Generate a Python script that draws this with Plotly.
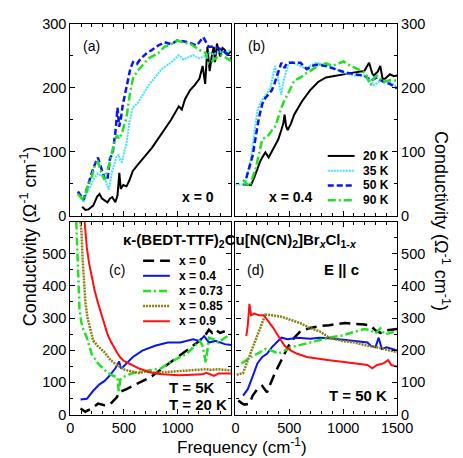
import plotly.graph_objects as go

W, H = 463, 458

# ---- data: (frequency cm-1, conductivity) ----
# panel (a): x = 0
a_20k = [(110, 14), (140, 9), (169, 10), (213, 16), (250, 30), (272, 34), (295, 27), (317, 24), (346, 21),
         (370, 27), (391, 29), (420, 21), (440, 32), (457, 67), (470, 42), (494, 48), (524, 46), (550, 55),
         (583, 70), (630, 80), (672, 89), (720, 98), (761, 106), (820, 120), (879, 134), (940, 150),
         (1012, 171), (1040, 166), (1070, 182), (1116, 196), (1160, 204), (1204, 214), (1234, 234),
         (1258, 206), (1279, 264), (1300, 226), (1320, 250), (1338, 264), (1350, 240), (1368, 269),
         (1397, 249), (1420, 262), (1441, 259), (1470, 252), (1500, 257)]
a_35k = [(70, 36), (100, 28), (124, 21), (150, 35), (183, 44), (220, 58), (257, 66), (290, 62), (317, 64),
         (340, 48), (361, 41), (390, 70), (405, 79), (430, 92), (450, 96), (465, 86), (480, 84), (500, 100),
         (524, 114), (555, 150), (583, 169), (628, 176), (680, 190), (731, 204), (790, 216), (850, 229),
         (938, 239), (1012, 251), (1057, 244), (1100, 248), (1145, 251), (1204, 246), (1260, 250),
         (1293, 254), (1340, 252), (1382, 256), (1440, 255), (1500, 259)]
a_50k = [(70, 38), (100, 30), (124, 25), (150, 40), (183, 56), (215, 75), (257, 91), (285, 75), (317, 59),
         (345, 56), (370, 90), (393, 96), (420, 130), (440, 169), (455, 139), (470, 150), (490, 174),
         (530, 206), (560, 230), (585, 240), (620, 237), (660, 246), (720, 255), (760, 259), (820, 266),
         (880, 271), (940, 268), (1000, 274), (1060, 272), (1100, 271), (1180, 266), (1240, 279),
         (1290, 264), (1350, 264), (1420, 259), (1500, 246)]
a_90k = [(70, 34), (100, 28), (124, 24), (160, 45), (198, 60), (230, 80), (257, 84), (290, 68), (317, 56),
         (345, 70), (376, 89), (410, 115), (435, 126), (455, 120), (480, 129), (500, 140), (524, 154),
         (555, 190), (583, 214), (620, 225), (660, 232), (731, 246), (820, 254), (879, 264), (940, 268),
         (998, 274), (1060, 270), (1116, 269), (1204, 259), (1264, 254), (1290, 238), (1308, 239),
         (1353, 246), (1412, 251), (1450, 247), (1500, 242)]

# panel (b): x = 0.4
b_20k = [(70, 49), (110, 48), (145, 48), (175, 60), (204, 74), (230, 85), (249, 91), (278, 99), (308, 91),
         (352, 106), (397, 119), (426, 134), (445, 145), (456, 158), (470, 140), (485, 134), (515, 144),
         (545, 158), (574, 166), (618, 179), (692, 196), (767, 209), (840, 216), (929, 219), (1018, 221),
         (1107, 224), (1196, 226), (1240, 239), (1270, 222), (1284, 219), (1320, 225), (1344, 234),
         (1365, 214), (1388, 214), (1433, 221), (1470, 218), (1500, 219)]
b_35k = [(0, 49), (40, 49), (86, 49), (115, 68), (145, 89), (175, 130), (204, 164), (235, 178), (263, 184),
         (295, 192), (323, 199), (345, 215), (367, 234), (395, 215), (420, 195), (426, 189), (445, 210),
         (470, 224), (490, 236), (515, 241), (545, 238), (574, 236), (663, 229), (700, 235), (751, 239),
         (810, 237), (870, 234), (989, 224), (1107, 219), (1225, 219), (1255, 212), (1284, 204),
         (1344, 211), (1433, 209), (1498, 201)]
b_50k = [(101, 59), (130, 76), (160, 94), (190, 125), (219, 154), (250, 175), (278, 184), (310, 190),
         (337, 196), (360, 205), (382, 216), (405, 230), (426, 239), (440, 235), (456, 231), (475, 238),
         (500, 239), (545, 239), (604, 239), (663, 229), (710, 234), (751, 236), (840, 234), (929, 229),
         (1018, 224), (1107, 221), (1196, 219), (1255, 211), (1314, 216), (1373, 209), (1433, 206),
         (1498, 199)]
b_90k = [(71, 56), (100, 51), (130, 46), (160, 60), (189, 74), (220, 98), (249, 119), (280, 123), (308, 126),
         (337, 133), (367, 139), (400, 155), (426, 169), (455, 180), (485, 189), (515, 200), (545, 211),
         (604, 216), (650, 222), (692, 226), (781, 236), (840, 238), (900, 234), (960, 238), (1003, 241),
         (1050, 236), (1107, 231), (1196, 224), (1255, 204), (1285, 215), (1314, 219), (1373, 209),
         (1440, 212), (1498, 211)]

# panel (c): T = 5 K / 20 K
c_x0 = [(95, 19), (139, 9), (198, 19), (258, 34), (317, 29), (376, 34), (435, 54), (450, 69), (524, 79),
        (642, 99), (761, 119), (879, 149), (998, 179), (1116, 209), (1205, 229), (1264, 249), (1293, 264),
        (1323, 254), (1353, 264), (1397, 254), (1441, 259)]
c_x04 = [(95, 47), (154, 49), (213, 74), (272, 94), (317, 104), (361, 119), (420, 144), (445, 160),
         (455, 165), (470, 145), (480, 144), (524, 159), (583, 179), (672, 199), (790, 214), (909, 224),
         (1027, 224), (1145, 234), (1205, 229), (1249, 244), (1293, 224), (1353, 229), (1441, 219),
         (1500, 216)]
c_x073 = [(55, 600), (65, 520), (75, 420), (85, 330), (100, 290), (120, 265), (154, 239), (198, 189),
          (258, 159), (317, 139), (376, 124), (420, 119), (440, 115), (452, 68), (465, 109), (509, 119),
          (583, 129), (672, 134), (761, 139), (850, 144), (909, 159), (998, 174), (1086, 189), (1146, 209),
          (1205, 229), (1234, 214), (1264, 160), (1293, 239), (1338, 234), (1382, 224), (1441, 239),
          (1500, 249)]
c_x085 = [(95, 600), (105, 560), (115, 480), (125, 420), (140, 350), (160, 300), (185, 265), (213, 230),
          (258, 212), (317, 194), (376, 169), (435, 154), (509, 139), (583, 134), (642, 129), (701, 134),
          (790, 130), (879, 132), (998, 135), (1116, 136), (1205, 139), (1264, 141), (1308, 139),
          (1382, 141), (1500, 137)]
c_x09 = [(133, 600), (140, 560), (154, 518), (175, 470), (198, 428), (227, 385), (257, 348), (290, 310),
         (316, 278), (346, 250), (376, 228), (405, 210), (435, 193), (465, 178), (494, 168), (553, 158),
         (600, 150), (642, 143), (720, 134), (790, 128), (860, 125), (938, 123), (1010, 122), (1086, 123),
         (1160, 124), (1234, 125), (1270, 130), (1300, 125), (1340, 120), (1382, 128), (1440, 127),
         (1500, 128)]

# panel (d): T = 50 K
d_x0 = [(27, 44), (60, 35), (86, 31), (130, 34), (160, 59), (204, 79), (249, 89), (293, 69), (323, 94),
        (367, 129), (426, 169), (485, 209), (545, 239), (604, 259), (692, 269), (781, 275), (870, 278),
        (959, 282), (1018, 285), (1107, 282), (1196, 280), (1255, 276), (1299, 262), (1344, 254),
        (1403, 262), (1500, 266)]
d_x04 = [(71, 59), (115, 79), (160, 119), (204, 159), (249, 179), (293, 189), (337, 209), (397, 229),
         (426, 239), (485, 234), (574, 239), (692, 236), (781, 239), (870, 237), (989, 234), (1107, 229),
         (1225, 224), (1255, 214), (1299, 209), (1329, 239), (1358, 204), (1403, 209), (1500, 199)]
d_x073 = [(56, 159), (101, 169), (145, 179), (204, 189), (278, 204), (337, 199), (397, 189), (456, 199),
          (515, 209), (633, 219), (751, 229), (870, 239), (989, 246), (1107, 258), (1196, 266), (1255, 262),
          (1299, 252), (1344, 268), (1388, 249), (1433, 254), (1500, 259)]
d_x085 = [(12, 124), (71, 129), (115, 169), (160, 209), (204, 249), (249, 289), (278, 311), (337, 309),
          (426, 304), (515, 294), (604, 284), (692, 269), (781, 259), (870, 239), (989, 229), (1107, 224),
          (1225, 214), (1314, 209), (1403, 201), (1500, 194)]
d_x09 = [(101, 244), (115, 279), (130, 344), (145, 309), (175, 314), (219, 309), (263, 309), (308, 289),
         (352, 269), (397, 244), (456, 214), (515, 199), (574, 189), (663, 179), (751, 174), (870, 169),
         (989, 164), (1107, 159), (1225, 154), (1270, 144), (1314, 154), (1373, 159), (1417, 169),
         (1447, 154), (1500, 149)]

temp_names = ["20 K", "35 K", "50 K", "90 K"]
x_names = ["x = 0", "x = 0.4", "x = 0.73", "x = 0.85", "x = 0.9"]

FONT = "Liberation Sans, Arial, sans-serif"

temp_styles = [
    dict(color="black", width=2, dash="solid"),
    dict(color="#40e0ff", width=2, dash="2px,1px"),
    dict(color="#0a14f0", width=2.5, dash="6px,3px"),
    dict(color="#22e022", width=2.5, dash="8px,3px,2px,3px"),
]
x_styles = [
    dict(color="black", width=2.5, dash="11px,6px"),
    dict(color="#0a14f0", width=2, dash="solid"),
    dict(color="#22e022", width=2.5, dash="8px,3px,2px,3px"),
    dict(color="#8a7f10", width=2.5, dash="2px,1px"),
    dict(color="#ff1010", width=2, dash="solid"),
]

fig = go.Figure()


def add(series, name, style, xa, ya):
    fig.add_trace(go.Scatter(
        x=[p[0] for p in series], y=[p[1] for p in series],
        mode="lines", name=name, line=style, xaxis=xa, yaxis=ya, showlegend=False,
    ))


for s, n, st in zip([a_20k, a_35k, a_50k, a_90k], temp_names, temp_styles):
    add(s, n, st, "x", "y")
for s, n, st in zip([b_20k, b_35k, b_50k, b_90k], temp_names, temp_styles):
    add(s, n, st, "x2", "y2")
for s, n, st in zip([c_x0, c_x04, c_x073, c_x085, c_x09], x_names, x_styles):
    add(s, n, st, "x3", "y3")
for s, n, st in zip([d_x0, d_x04, d_x073, d_x085, d_x09], x_names, x_styles):
    add(s, n, st, "x4", "y4")


def fx(p):
    return p / W


def fy(p):
    return 1 - p / H


left_dom = [fx(61), fx(229)]
right_dom = [fx(233.5), fx(402.5)]
top_dom = [fy(207), fy(8)]
bot_dom = [fy(413), fy(213)]

ax_common = dict(showline=True, linecolor="black", linewidth=1.2, mirror="allticks",
                 ticks="inside", ticklen=5, tickwidth=1.1, tickcolor="black",
                 showgrid=False, zeroline=False,
                 tickfont=dict(family=FONT, size=14.5, color="black"))

minor = dict(ticks="inside", ticklen=3, tickcolor="black", tickwidth=1)
xax = dict(ax_common, range=[0, 1500], dtick=500, tick0=0, minor=dict(minor, dtick=100))
yax_top = dict(ax_common, range=[0, 300], dtick=100, tick0=0, minor=dict(minor, dtick=50))
yax_bot = dict(ax_common, range=[0, 600], dtick=100, tick0=0, minor=dict(minor, dtick=50))

fig.update_layout(
    width=W, height=H, margin=dict(l=0, r=0, t=0, b=0),
    paper_bgcolor="white", plot_bgcolor="white",
    font=dict(family=FONT, color="black"),
    xaxis=dict(xax, domain=left_dom, anchor="y", showticklabels=False),
    xaxis2=dict(xax, domain=right_dom, anchor="y2", showticklabels=False),
    xaxis3=dict(xax, domain=left_dom, anchor="y3", tickvals=[0, 500, 1000]),
    xaxis4=dict(xax, domain=right_dom, anchor="y4", tickvals=[0, 500, 1000, 1500]),
    yaxis=dict(yax_top, domain=top_dom, anchor="x"),
    yaxis2=dict(yax_top, domain=top_dom, anchor="x2", side="right"),
    yaxis3=dict(yax_bot, domain=bot_dom, anchor="x3", tickvals=[0, 100, 200, 300, 400, 500]),
    yaxis4=dict(yax_bot, domain=bot_dom, anchor="x4", side="right",
                tickvals=[0, 100, 200, 300, 400, 500]),
)


def note(text, x, y, size=14, bold=False, xanchor="center", angle=0):
    fig.add_annotation(text=text, x=fx(x), y=fy(y), xref="paper", yref="paper",
                       showarrow=False, xanchor=xanchor, yanchor="middle", textangle=angle,
                       font=dict(family=FONT, size=size, color="black",
                                 weight="bold" if bold else "normal"))


# legend keys (line samples + labels), drawn in the two legend boxes
def legend_block(names, styles, x0, x1, y_first, step):
    for i, (n, st) in enumerate(zip(names, styles)):
        y = y_first + i * step
        fig.add_shape(type="line", xref="paper", yref="paper",
                      x0=fx(x0), x1=fx(x1), y0=fy(y), y1=fy(y),
                      line=dict(color=st["color"], width=st["width"], dash=st["dash"]))
        note(n, x1 + 7, y, size=12, bold=True, xanchor="left")


legend_block(temp_names, temp_styles, 330, 358, 145, 15.3)
legend_block(x_names, x_styles, 137, 165, 253.5, 15.7)

note("(a)", 83, 31)
note("(b)", 256, 31)
note("(c)", 110, 263)
note("(d)", 255, 263)
note("x = 0", 194, 188, bold=True)
note("x = 0.4", 291, 188, bold=True)
note("κ-(BEDT-TTF)<sub>2</sub>Cu[N(CN)<sub>2</sub>]Br<sub><i>x</i></sub>Cl<sub>1-<i>x</i></sub>",
     238, 233, size=15, bold=True)
note("E || c", 344, 263, size=15, bold=True)
note("T = 5K", 162, 385, size=15, bold=True, xanchor="left")
note("T = 20 K", 162, 403, size=15, bold=True, xanchor="left")
note("T = 50 K", 329, 393, size=15, bold=True, xanchor="left")
note("Frequency (cm<sup>-1</sup>)", 240, 446, size=17)
note("Conductivity (Ω<sup>-1</sup> cm<sup>-1</sup>)", 17, 228, size=18, angle=-90)
note("Conductivity (Ω<sup>-1</sup> cm<sup>-1</sup>)", 449, 212, size=18, angle=90)

fig.write_html("out.html")
